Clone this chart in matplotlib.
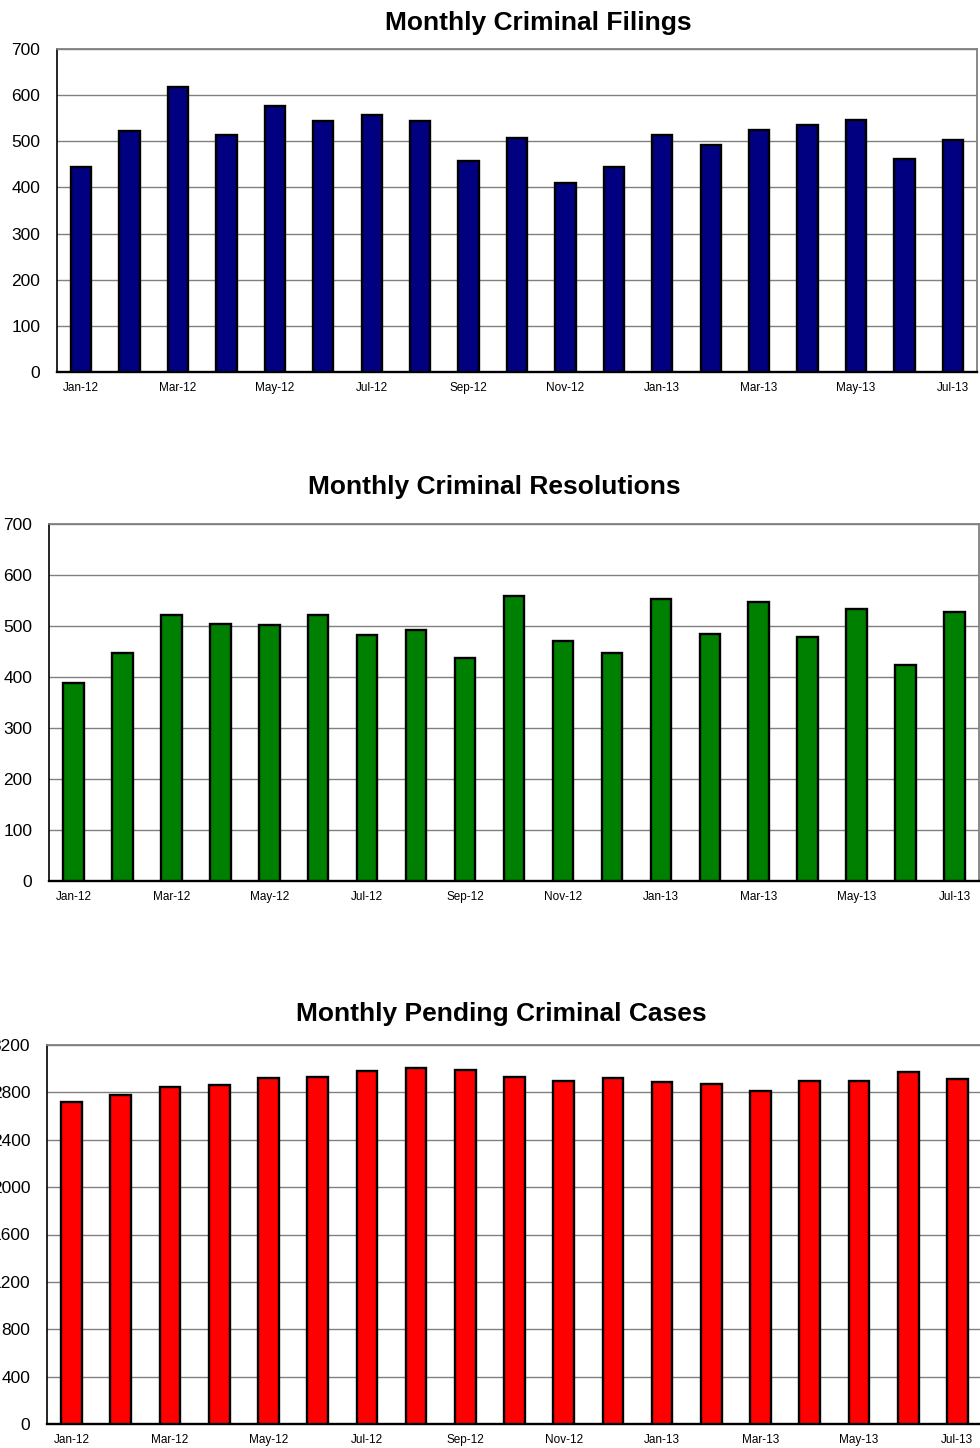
import matplotlib
matplotlib.use("Agg")
import matplotlib.pyplot as plt

plt.rcParams['font.family'] = ['Liberation Sans', 'DejaVu Sans']

# month labels, Jan-12 .. Jul-13
months = ['Jan-12', 'Feb-12', 'Mar-12', 'Apr-12', 'May-12', 'Jun-12', 'Jul-12',
          'Aug-12', 'Sep-12', 'Oct-12', 'Nov-12', 'Dec-12', 'Jan-13', 'Feb-13',
          'Mar-13', 'Apr-13', 'May-13', 'Jun-13', 'Jul-13']

filings = [445, 523, 618, 513, 576, 545, 556, 544, 458, 507,
           410, 444, 514, 492, 525, 536, 546, 462, 503]

resolutions = [388, 448, 521, 503, 502, 522, 483, 493, 438, 559,
               470, 447, 553, 485, 547, 479, 534, 423, 527]

pending = [2719, 2781, 2845, 2865, 2921, 2930, 2981, 3006, 2989, 2933,
           2899, 2919, 2890, 2871, 2812, 2899, 2893, 2972, 2913]

W, H = 980, 1448


def box(left, top, right, bottom):
    # pixel box -> figure fraction rect
    return [left / W, 1 - bottom / H, (right - left) / W, (bottom - top) / H]


def draw_panel(fig, rect, values, color, ymax, ystep, title, title_xy):
    ax = fig.add_axes(rect)
    x = list(range(len(values)))
    ax.bar(x, values, width=0.42, color=color, edgecolor='black',
           linewidth=1.7, zorder=3)
    ax.set_xlim(-0.5, len(values) - 0.5)
    ax.set_ylim(0, ymax)
    ax.set_yticks(range(0, ymax + 1, ystep))
    ax.set_xticks(x[::2])
    ax.set_xticklabels(months[::2])
    ax.tick_params(axis='y', length=0, pad=12, labelsize=12.5)
    ax.tick_params(axis='x', length=0, pad=7, labelsize=8.5)
    ax.yaxis.grid(True, color='#808080', linewidth=1, zorder=0)
    ax.set_axisbelow(True)
    for side in ['top', 'right']:
        ax.spines[side].set_color('#808080')
        ax.spines[side].set_linewidth(1.3)
    ax.spines['left'].set_color('black')
    ax.spines['left'].set_linewidth(1.2)
    ax.spines['bottom'].set_color('black')
    ax.spines['bottom'].set_linewidth(1.7)
    fig.text(title_xy[0] / W, 1 - title_xy[1] / H, title, ha='center',
             va='center', fontsize=19, fontweight='bold')
    return ax


fig = plt.figure(figsize=(W / 100, H / 100), dpi=100)

draw_panel(fig, box(57, 49, 977, 372), filings, '#000080', 700, 100,
           'Monthly Criminal Filings', (538, 23))
draw_panel(fig, box(49, 524, 979, 881), resolutions, '#008000', 700, 100,
           'Monthly Criminal Resolutions', (494, 487))
draw_panel(fig, box(47, 1045, 982, 1424), pending, '#FF0000', 3200, 400,
           'Monthly Pending Criminal Cases', (501, 1014))

fig.savefig('out.png', dpi=100)
